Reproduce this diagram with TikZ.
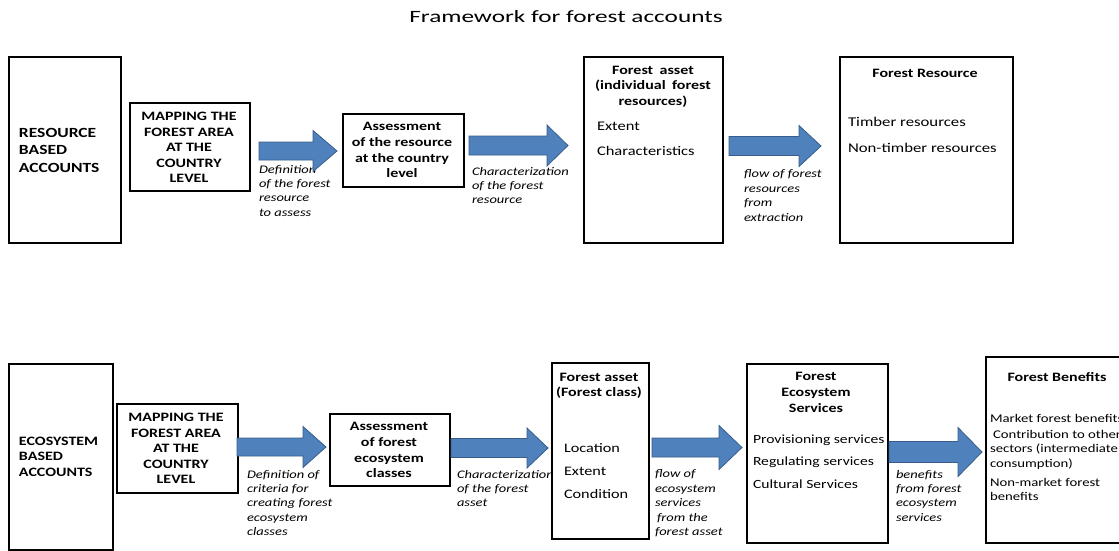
\documentclass[tikz,border=0pt]{standalone}
\usepackage{fontspec}
\setmainfont{Carlito}[FakeStretch=1.25]
\newfontfamily\titlef{Carlito}[FakeStretch=1.46]
\usetikzlibrary{calc}
\definecolor{arrowfill}{HTML}{4F81BD}
\definecolor{arrowedge}{HTML}{385D8A}
\newcommand\fs[2]{\fontsize{#1}{#2}\selectfont}
% block arrow from coordinate #1 to tip #2: shaft half-height #3, head half-height #4, head length #5
\newcommand\fatarrow[5]{%
  \path[flow] ($(#1)+(0,-#3)$) -- ($(#2)+(-#5,-#3)$) -- ($(#2)+(-#5,-#4)$) -- (#2)
    -- ($(#2)+(-#5,#4)$) -- ($(#2)+(-#5,#3)$) -- ($(#1)+(0,#3)$) -- cycle;}
\tikzset{
  box/.style={draw=black, line width=1.6pt, fill=white, inner sep=0pt, anchor=north west},
  flow/.style={fill=arrowfill, draw=arrowedge, line width=0.8pt, line join=miter},
  txt/.style={inner sep=0pt, outer sep=0pt, text=black},
  head/.style={txt, anchor=north, align=center, font=\fs{12.8}{15.6}\bfseries},
  caps/.style={txt, anchor=north west, align=left, font=\fs{12.8}{15.5}\bfseries},
  items/.style={txt, anchor=north west, align=left, font=\fs{13.2}{25}},
  note/.style={txt, anchor=north west, align=left, font=\fs{11.6}{14.4}\itshape},
}
\begin{document}
\begin{tikzpicture}[x=1pt, y=-1pt]
\useasboundingbox (0,0) rectangle (1119,550);
\clip (0,0) rectangle (1119,550);
\fill[white] (0,0) rectangle (1119,550);

\node[txt, font=\titlef\fs{17.3}{20}] (title) at (566,17) {Framework for forest accounts};

% ---- flow annotations (lie underneath arrows and boxes)
\node[note] (n1) at (259,165) {Definition\\of the forest\\resource\\to assess};
\node[note] (n2) at (472,167) {Characterization\\of the forest\\resource};
\node[note] (n3) at (744,170) {flow of forest\\resources\\from\\extraction};
\node[note] (n4) at (247,470) {Definition of\\criteria for\\creating forest\\ecosystem\\classes};
\node[note] (n5) at (457,470) {Characterization\\of the forest\\asset};
\node[note] (n6) at (655,470) {flow of\\ecosystem\\services\\\hspace{2pt}from the\\forest asset};
\node[note] (n7) at (896,470) {benefits\\from forest\\ecosystem\\services};

% ---- resource based accounts
\node[box, minimum width=112pt, minimum height=186pt] (r1) at (8,56) {};
\node[box, minimum width=120pt, minimum height=88pt] (m1) at (129,102) {};
\node[box, minimum width=121pt, minimum height=73pt] (s1) at (342,113) {};
\node[box, minimum width=139pt, minimum height=186pt] (fa1) at (583,56) {};
\node[box, minimum width=173pt, minimum height=186pt] (fr) at (839,56) {};

\node[caps, font=\fs{14}{17.5}\bfseries] (r1t) at (19,128) {RESOURCE\\BASED\\ACCOUNTS};
\node[head] (m1t) at (189,112) {MAPPING THE\\FOREST AREA\\AT THE\\COUNTRY\\LEVEL};
\node[head] (s1t) at (402,122.5) {Assessment\\of the resource\\at the country\\level};
\node[head] (fa1t) at (653,66) {Forest\hspace{0.5em}asset\\(individual\hspace{0.5em}forest\\resources)};
\node[items] (fa1i) at (597,122.5) {Extent\\Characteristics};
\node[head] (frt) at (925,69) {Forest Resource};
\node[items, font=\fs{13.4}{25.5}] (fri) at (848,117.5) {Timber resources\\Non-timber resources};

% ---- ecosystem based accounts
\node[box, minimum width=104pt, minimum height=186pt] (r2) at (8,363) {};
\node[box, minimum width=121pt, minimum height=89pt] (m2) at (116,403) {};
\node[box, minimum width=120pt, minimum height=72pt] (s2) at (329,413) {};
\node[box, minimum width=97pt, minimum height=176pt] (fa2) at (551,362) {};
\node[box, minimum width=141pt, minimum height=179pt] (fes) at (746,363) {};
\node[box, minimum width=150pt, minimum height=186pt] (fb) at (985,356) {};

\node[caps] (r2t) at (19,437) {ECOSYSTEM\\BASED\\ACCOUNTS};
\node[head] (m2t) at (176,413) {MAPPING THE\\FOREST AREA\\AT THE\\COUNTRY\\LEVEL};
\node[head] (s2t) at (389,422.5) {Assessment\\of forest\\ecosystem\\classes};
\node[head] (fa2t) at (599,373) {Forest asset\\(Forest class)};
\node[items, font=\fs{13}{23}] (fa2i) at (564,444) {Location\\Extent\\Condition};
\node[head] (fest) at (816,372.5) {Forest\\Ecosystem\\Services};
\node[items, font=\fs{12.5}{22.5}] (fesi) at (753,434.5) {Provisioning services\\Regulating services\\Cultural Services};
\node[head] (fbt) at (1057,372.5) {Forest Benefits};
\node[items, font=\fs{11.8}{14.5}] (fbi) at (990,414)
  {Market forest benefits\\[1.5pt]\hspace{3pt}Contribution to other\\sectors (intermediate\\consumption)\\[4.5pt]Non-market forest\\benefits};

% ---- block arrows between the stages
\coordinate (a1s) at (259,151);   \coordinate (a1e) at (337,151);
\coordinate (a2s) at (469,145.5); \coordinate (a2e) at (568,145.5);
\coordinate (a3s) at (729,146);   \coordinate (a3e) at (821,146);
\coordinate (a4s) at (237,447);   \coordinate (a4e) at (326,447);
\coordinate (a5s) at (451,448);   \coordinate (a5e) at (548,448);
\coordinate (a6s) at (652,447.5); \coordinate (a6e) at (742,447.5);
\coordinate (a7s) at (889,452);   \coordinate (a7e) at (982,452);
\fatarrow{a1s}{a1e}{9}{20.5}{24}
\fatarrow{a2s}{a2e}{9.5}{20.5}{21}
\fatarrow{a3s}{a3e}{9.5}{20.5}{22}
\fatarrow{a4s}{a4e}{9}{20.5}{23}
\fatarrow{a5s}{a5e}{9.5}{20}{21}
\fatarrow{a6s}{a6e}{9.5}{22}{23}
\fatarrow{a7s}{a7e}{10.5}{24.5}{24}
\end{tikzpicture}
\end{document}
